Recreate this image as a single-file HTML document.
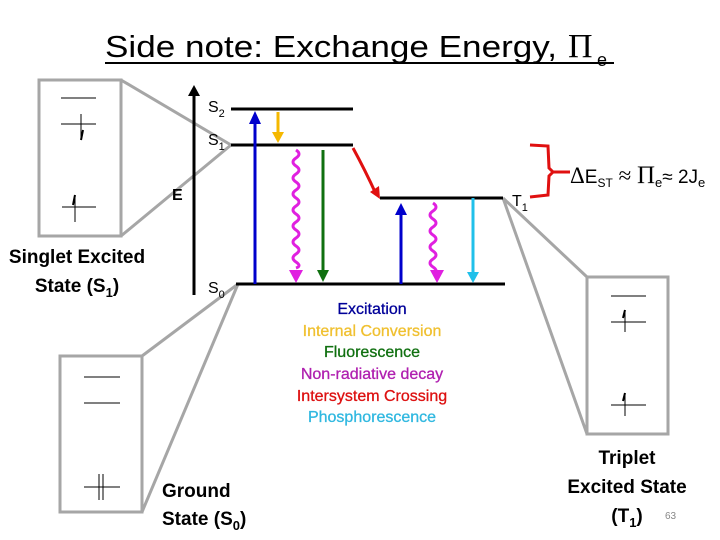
<!DOCTYPE html>
<html><head><meta charset="utf-8"><style>
html,body{margin:0;padding:0;background:#fff;}
svg{display:block;}
</style></head><body>
<svg width="720" height="540" viewBox="0 0 720 540" xmlns="http://www.w3.org/2000/svg">
<!-- title -->
<text x="105" y="57" font-family="Liberation Sans, sans-serif" font-size="31" fill="#000" textLength="452" lengthAdjust="spacingAndGlyphs">Side note: Exchange Energy,</text>
<text x="568" y="57" font-family="Liberation Serif, serif" font-size="34" fill="#000">Π</text>
<text x="597" y="66" font-family="Liberation Sans, sans-serif" font-size="18" fill="#000">e</text>
<line x1="105" y1="63" x2="614" y2="63" stroke="#000" stroke-width="2"/>

<!-- gray zoom lines -->
<g stroke="#a6a6a6" stroke-width="3" fill="none">
<rect x="39" y="80" width="82" height="156"/>
<line x1="121" y1="80" x2="231" y2="145"/>
<line x1="121" y1="236" x2="231" y2="145"/>
<rect x="60" y="356" width="82" height="156"/>
<line x1="142" y1="356" x2="238" y2="284"/>
<line x1="142" y1="512" x2="238" y2="284"/>
<rect x="587" y="277" width="81" height="157"/>
<line x1="587" y1="277" x2="503" y2="198"/>
<line x1="587" y1="434" x2="503" y2="198"/>
</g>
<!-- orbital diagrams -->
<g stroke="#000" stroke-width="1">
<line x1="61" y1="98" x2="96" y2="98"/>
<line x1="61" y1="124" x2="96" y2="124"/>
<line x1="81" y1="114" x2="81" y2="140"/>
<path d="M81 140 L83 130" stroke-width="2"/>
<line x1="62" y1="207" x2="96" y2="207"/>
<line x1="75" y1="195" x2="75" y2="222"/>
<path d="M75 195 L73 205" stroke-width="2"/>
<line x1="84" y1="377" x2="120" y2="377"/>
<line x1="84" y1="403" x2="120" y2="403"/>
<line x1="84" y1="487" x2="120" y2="487"/>
<line x1="99" y1="474" x2="99" y2="500"/>
<line x1="103" y1="474" x2="103" y2="500"/>
<line x1="611" y1="296" x2="646" y2="296"/>
<line x1="611" y1="322" x2="646" y2="322"/>
<line x1="625" y1="310" x2="625" y2="332"/>
<path d="M625 310 L623 318" stroke-width="2"/>
<line x1="611" y1="405" x2="646" y2="405"/>
<line x1="625" y1="393" x2="625" y2="416"/>
<path d="M625 393 L623 401" stroke-width="2"/>
</g>
<!-- axis -->
<line x1="194" y1="295" x2="194" y2="92" stroke="#000" stroke-width="3"/>
<path d="M188 96 L194 85 L200 96 z" fill="#000"/>
<text x="172" y="200" font-family="Liberation Sans, sans-serif" font-size="16" font-weight="bold">E</text>
<!-- levels -->
<g stroke="#000" stroke-width="3">
<line x1="231" y1="109" x2="353" y2="109"/>
<line x1="231" y1="145" x2="353" y2="145"/>
<line x1="236" y1="284" x2="505" y2="284"/>
<line x1="380" y1="198" x2="503" y2="198"/>
</g>
<g font-family="Liberation Sans, sans-serif" font-size="16">
<text x="208" y="112">S<tspan font-size="11" dy="5">2</tspan></text>
<text x="208" y="145">S<tspan font-size="11" dy="5">1</tspan></text>
<text x="208" y="293">S<tspan font-size="11" dy="5">0</tspan></text>
<text x="512" y="206">T<tspan font-size="11" dy="5">1</tspan></text>
</g>
<!-- arrows -->
<line x1="255" y1="284" x2="255" y2="120" stroke="#0000cc" stroke-width="3"/>
<path d="M249 124 L255 111 L261 124 z" fill="#0000cc"/>
<line x1="278" y1="112" x2="278" y2="134" stroke="#f5b800" stroke-width="3"/>
<path d="M272 132 L278 143 L284 132 z" fill="#f5b800"/>
<path d="M296 150 q6 4 0 8 q-6 4 0 8 q6 4 0 8 q-6 4 0 8 q6 4 0 8 q-6 4 0 8 q6 4 0 8 q-6 4 0 8 q6 4 0 8 q-6 4 0 8 q6 4 0 8 q-6 4 0 8 q6 4 0 8 q-6 4 0 8 q6 4 0 6" stroke="#e020e0" stroke-width="3" fill="none"/>
<path d="M289 270 L296 283 L303 270 z" fill="#e020e0"/>
<line x1="323" y1="150" x2="323" y2="272" stroke="#107010" stroke-width="3"/>
<path d="M317 270 L323 282 L329 270 z" fill="#107010"/>
<path d="M353 148 Q365 170 376 194" stroke="#e01010" stroke-width="3" fill="none"/>
<path d="M370 192 L380 199 L379 186 z" fill="#e01010"/>
<line x1="401" y1="284" x2="401" y2="212" stroke="#0000cc" stroke-width="3"/>
<path d="M395 215 L401 203 L407 215 z" fill="#0000cc"/>
<path d="M433 203 q6 4 0 8 q-6 4 0 8 q6 4 0 8 q-6 4 0 8 q6 4 0 8 q-6 4 0 8 q6 4 0 8 q-6 4 0 8 q6 4 0 6" stroke="#e020e0" stroke-width="3" fill="none"/>
<path d="M430 270 L437 283 L444 270 z" fill="#e020e0"/>
<line x1="473" y1="198" x2="473" y2="274" stroke="#20c0ea" stroke-width="3"/>
<path d="M467 272 L473 283 L479 272 z" fill="#20c0ea"/>
<!-- bracket -->
<path d="M530 145 L548 146 L549 168 L553 172 L549 176 L548 195 L530 197" stroke="#e01010" stroke-width="3" fill="none"/>
<line x1="553" y1="172" x2="570" y2="172" stroke="#e01010" stroke-width="3"/>
<text x="570" y="183" font-family="Liberation Serif, serif" font-size="23">Δ<tspan font-family="Liberation Sans, sans-serif" font-size="19">E</tspan><tspan font-family="Liberation Sans, sans-serif" font-size="12" dy="4">ST</tspan><tspan dy="-4"> ≈ </tspan><tspan font-size="25">Π</tspan><tspan font-family="Liberation Sans, sans-serif" font-size="13" dy="4">e</tspan><tspan dy="-4" font-family="Liberation Sans, sans-serif" font-size="19">≈ 2J</tspan><tspan font-family="Liberation Sans, sans-serif" font-size="13" dy="4">e</tspan></text>
<!-- legend -->
<g font-family="Liberation Sans, sans-serif" font-size="16" text-anchor="middle" stroke-width="0.3">
<text x="372" y="314" fill="#000099" stroke="#000099">Excitation</text>
<text x="372" y="336" fill="#f0c030" stroke="#f0c030">Internal Conversion</text>
<text x="372" y="357" fill="#107010" stroke="#107010">Fluorescence</text>
<text x="372" y="379" fill="#b020b0" stroke="#b020b0">Non-radiative decay</text>
<text x="372" y="401" fill="#dd1010" stroke="#dd1010">Intersystem Crossing</text>
<text x="372" y="422" fill="#30b8e0" stroke="#30b8e0">Phosphorescence</text>
</g>
<!-- state labels -->
<g font-family="Liberation Sans, sans-serif" font-size="19" font-weight="bold" text-anchor="middle" fill="#000">
<text x="77" y="263">Singlet Excited</text>
<text x="77" y="292">State (S<tspan font-size="13" dy="5">1</tspan><tspan dy="-5">)</tspan></text>
<text x="627" y="464">Triplet</text>
<text x="627" y="493">Excited State</text>
<text x="627" y="522">(T<tspan font-size="13" dy="5">1</tspan><tspan dy="-5">)</tspan></text>
</g>
<g font-family="Liberation Sans, sans-serif" font-size="19" font-weight="bold" fill="#000">
<text x="162" y="497">Ground</text>
<text x="162" y="525">State (S<tspan font-size="13" dy="5">0</tspan><tspan dy="-5">)</tspan></text>
</g>
<text x="665" y="519" font-family="Liberation Sans, sans-serif" font-size="10" fill="#888">63</text>
</svg>
</body></html>
